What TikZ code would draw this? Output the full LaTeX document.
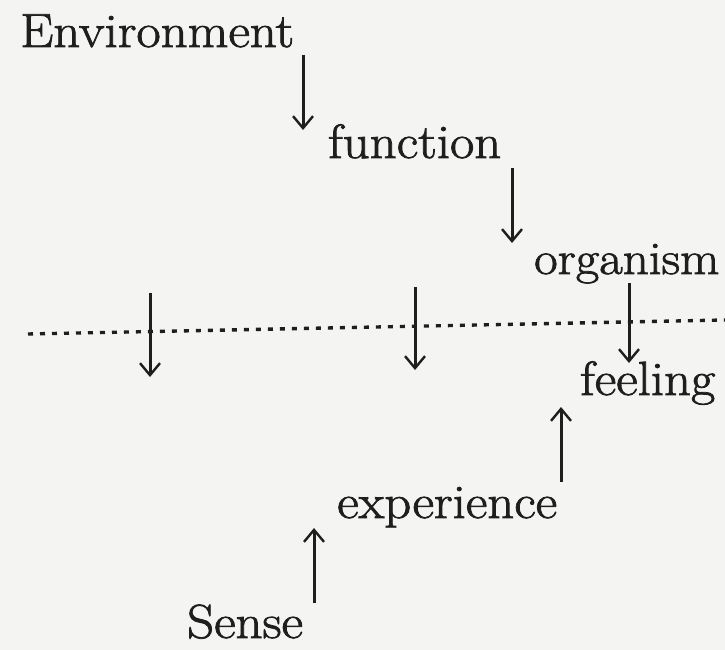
\documentclass[tikz,border=0pt]{standalone}
\usepackage{fontspec}
\setmainfont{Latin Modern Roman}[FakeStretch=1.1,FakeBold=1.6]
\usetikzlibrary{arrows.meta}
\definecolor{paper}{RGB}{244,244,242}
\definecolor{ink}{RGB}{30,30,30}
\begin{document}
\begin{tikzpicture}[x=1pt,y=-1pt,
  word/.style={anchor=base west,inner sep=0pt,text=ink,font=\fontsize{48}{52}\selectfont},
  flow/.style={draw=ink,line width=3pt,-{Straight Barb[length=12pt,width=20pt,line width=2.4pt]}},
  cut/.style={draw=ink,line width=3.4pt,dash pattern=on 5pt off 7pt}]
\fill[paper] (0,0) rectangle (725,650);
\useasboundingbox (0,0) rectangle (725,650);
\node[word] (env) at (20,47) {Environment};
\node[word] (fun) at (328,158) {function};
\node[word,font=\fontsize{46.5}{50}\selectfont] (org) at (534,274) {organism};
\node[word] (fee) at (580,395) {feeling};
\node[word] (exp) at (337,518) {experience};
\node[word] (sen) at (187,638) {Sense};
% arrow end points
\coordinate (a1s) at (303,55);  \coordinate (a1e) at (303,130);
\coordinate (a2s) at (512,168); \coordinate (a2e) at (512,243);
\coordinate (b1s) at (150,293); \coordinate (b1e) at (150,377);
\coordinate (b2s) at (415,287); \coordinate (b2e) at (415,370);
\coordinate (b3s) at (629,283); \coordinate (b3e) at (629,363);
\coordinate (c1s) at (561,482); \coordinate (c1e) at (561,407);
\coordinate (c2s) at (314,603); \coordinate (c2e) at (314,528);
\coordinate (ls) at (28,334); \coordinate (le) at (725,320);
\draw[cut] (ls) -- (le);
\draw[flow] (a1s) -- (a1e);
\draw[flow] (a2s) -- (a2e);
\draw[flow] (b1s) -- (b1e);
\draw[flow] (b2s) -- (b2e);
\draw[flow] (b3s) -- (b3e);
\draw[flow] (c1s) -- (c1e);
\draw[flow] (c2s) -- (c2e);
\end{tikzpicture}
\end{document}
